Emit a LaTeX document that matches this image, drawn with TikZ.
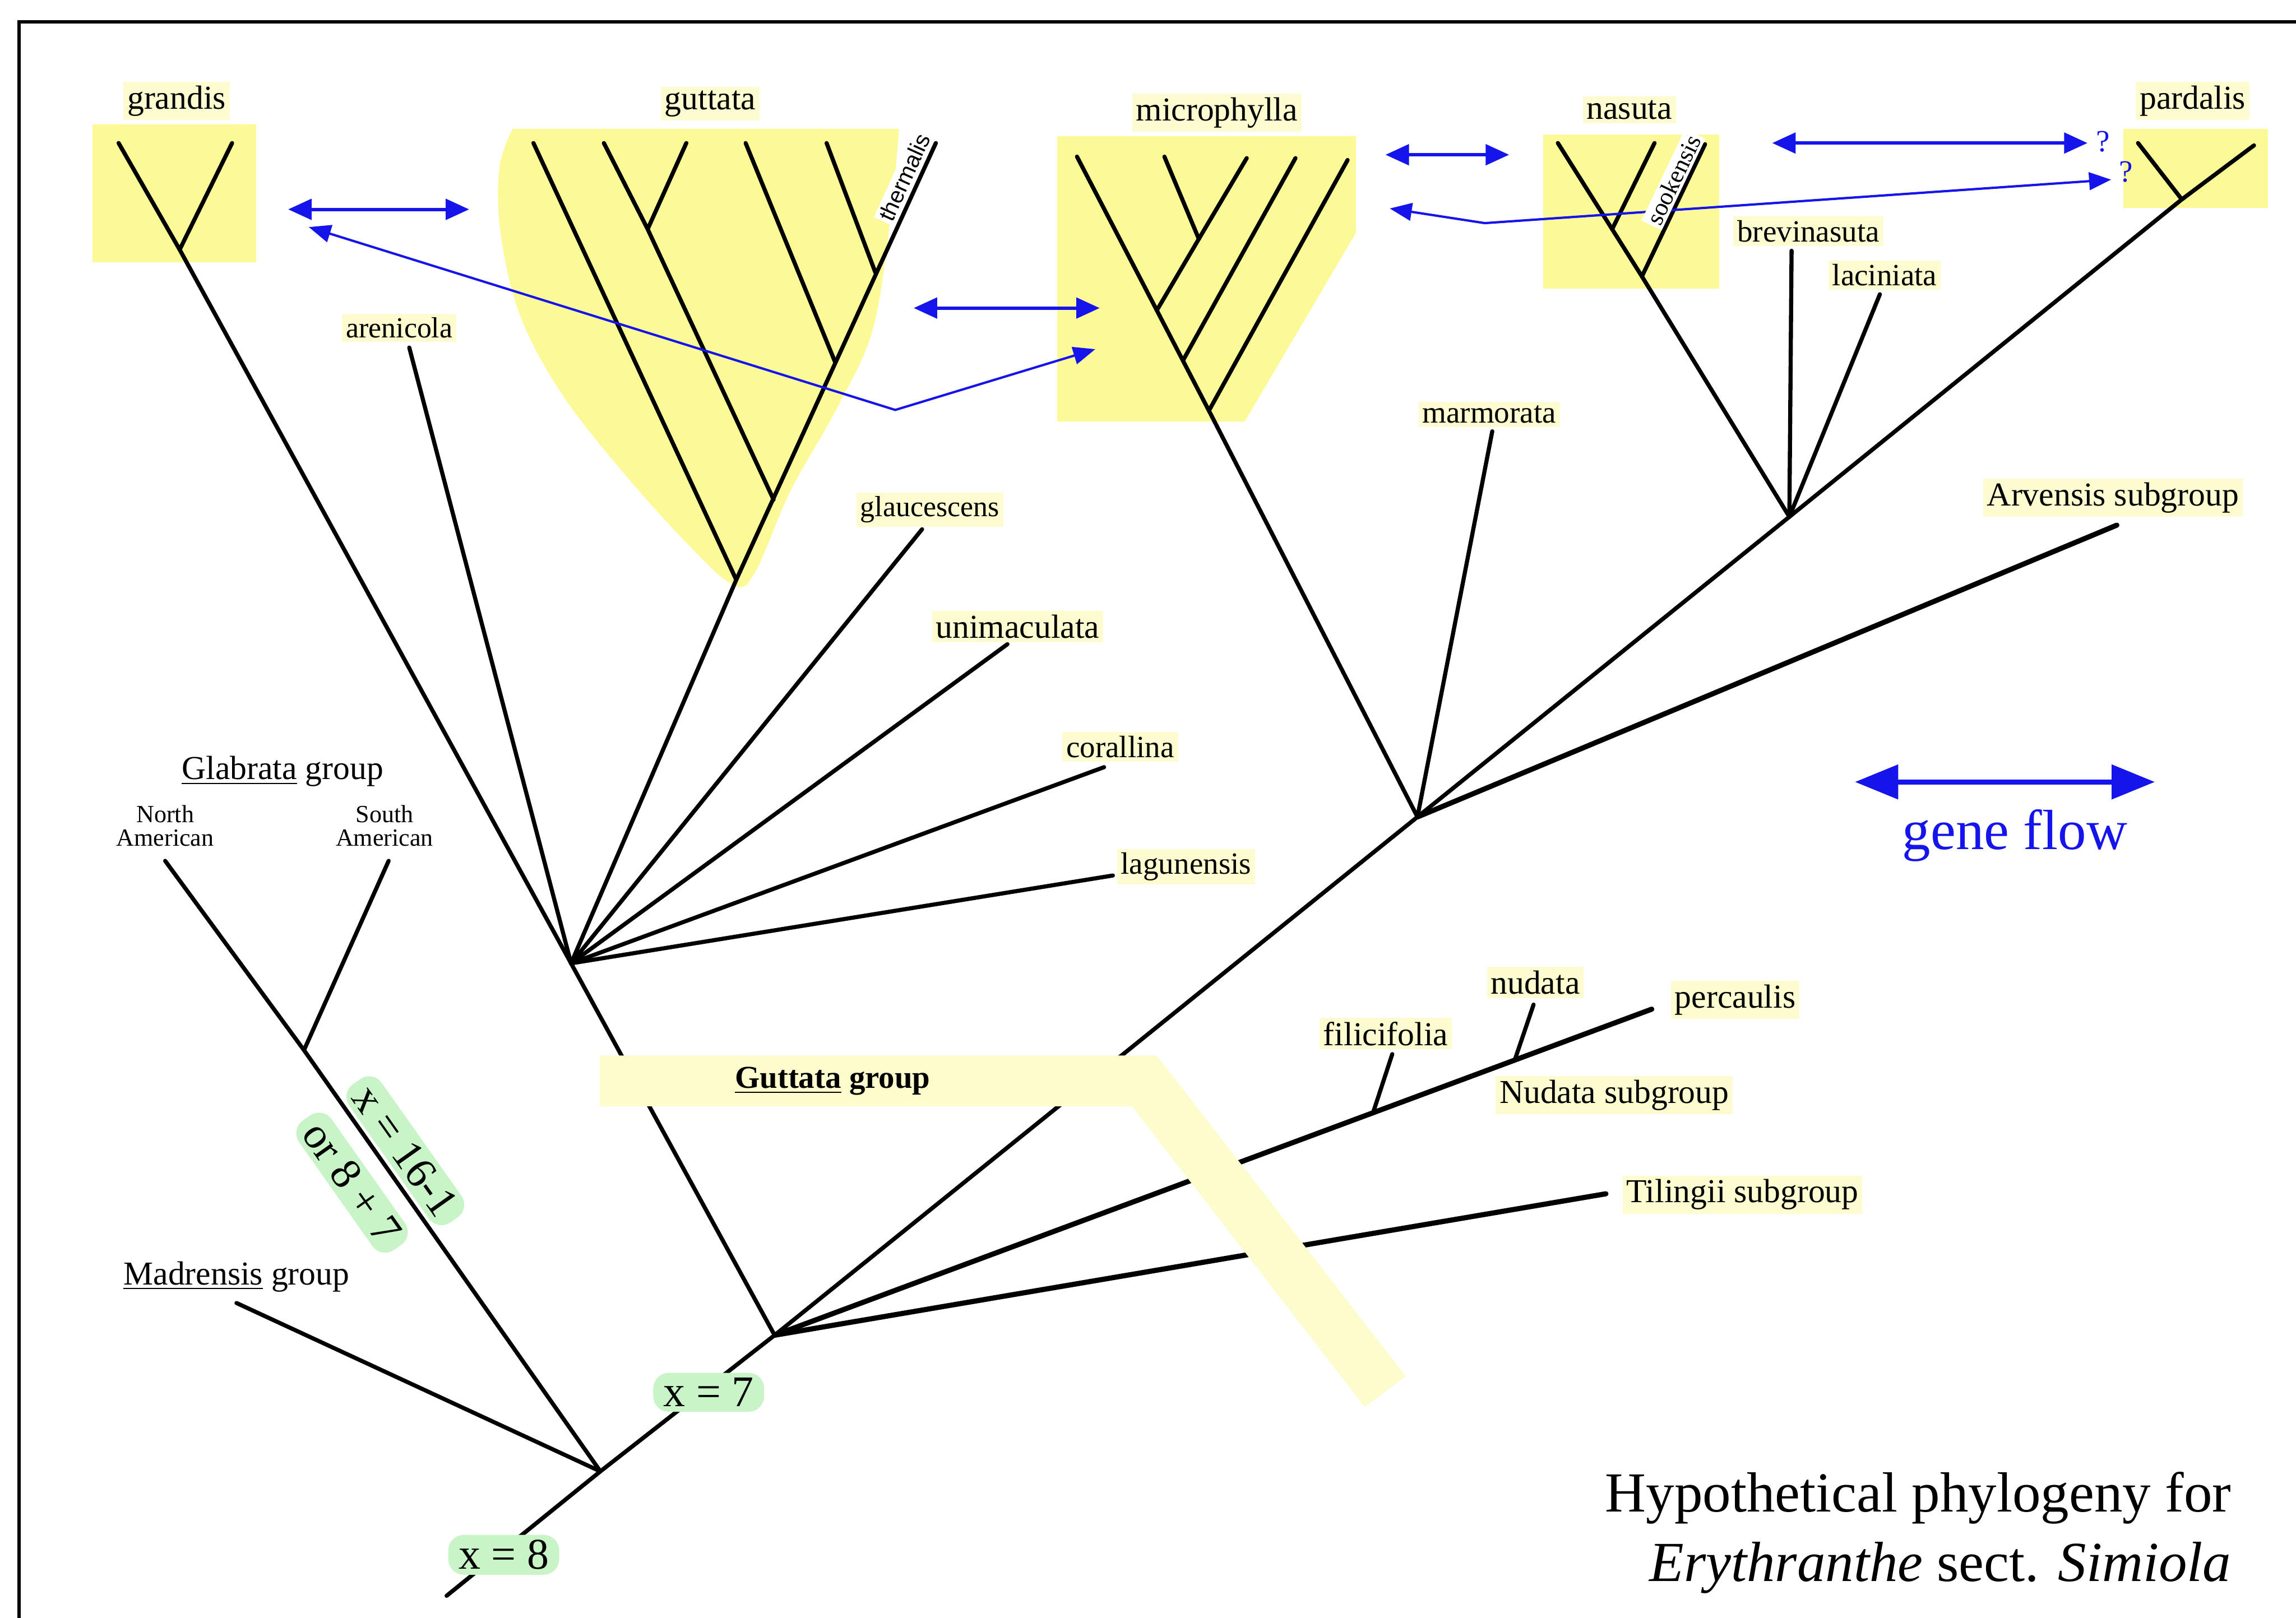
\documentclass[tikz,border=0pt]{standalone}
\usepackage{fontspec}
\setmainfont{Liberation Serif}
\newfontfamily\labelsans{Liberation Sans}
\usetikzlibrary{positioning, arrows.meta}

\definecolor{boxyellow}{RGB}{252,250,150}
\definecolor{labelyellow}{RGB}{252,252,208}
\definecolor{bandyellow}{RGB}{253,252,204}
\definecolor{ploidygreen}{RGB}{200,244,200}
\definecolor{flowblue}{RGB}{20,20,235}

\newcommand{\taxonfont}{\fontsize{13}{15}\selectfont}
\newcommand{\smalltaxonfont}{\fontsize{12}{14}\selectfont}
\newcommand{\titlefont}{\fontsize{22}{26}\selectfont}

\begin{document}
\begin{tikzpicture}[
    x=0.2mm, y=-0.2mm,
    branch/.style={line width=1.6pt, line cap=round},
    thickbranch/.style={line width=2pt, line cap=round},
    taxon/.style={fill=labelyellow, inner sep=1.5pt, font=\taxonfont},
    smalltaxon/.style={taxon, font=\smalltaxonfont},
    grouplabel/.style={inner sep=1pt, font=\taxonfont},
    ploidy/.style={fill=ploidygreen, rounded corners=6pt, inner xsep=4pt, inner ysep=2pt, font=\fontsize{17}{19}\selectfont},
    flow/.style={flowblue, line width=1.3pt, {Triangle[length=3.2mm,width=2.8mm]}-{Triangle[length=3.2mm,width=2.8mm]}},
    flowpath/.style={flowblue, line width=0.9pt, {Triangle[length=3mm,width=2.4mm]}-{Triangle[length=3mm,width=2.4mm]}}
]
\useasboundingbox (0,0) rectangle (1568,1105);

% Rahmen
\coordinate (frameTL) at (13,15);
\draw[line width=1.2pt] (13,1110) -- (frameTL) -- (1575,15);

% Gelbe Kladen
\fill[boxyellow] (63,85) rectangle (175,179);
\fill[boxyellow] plot[smooth, tension=0.6] coordinates {(614,88) (608,150) (596,225) (572,278) (540,335) (515,392) (500,399) (470,372) (425,322) (383,268) (355,215) (342,160) (341,115) (350,88)} -- cycle;
\fill[boxyellow] (722,93) -- (926,93) -- (926,159) -- (850,288) -- (722,288) -- cycle;
\fill[boxyellow] (1054,92) rectangle (1174,197);
\fill[boxyellow] (1450,88) rectangle (1549,142);

% Knoten
\coordinate (root) at (305,1090);
\coordinate (nA) at (410,1005);
\coordinate (nB) at (529,912);
\coordinate (nC) at (390,658);
\coordinate (nD) at (968,558);
\coordinate (nE) at (1222,353);
\coordinate (glabJ) at (207.6,717.3);
\coordinate (madL) at (161.5,890);
\coordinate (northL) at (112.8,588);
\coordinate (southL) at (265.4,588);
% grandis
\coordinate (grJ) at (122.7,170.5);
\coordinate (grT1) at (81,97.7);
\coordinate (grT2) at (158.5,97.7);
\coordinate (arenL) at (279.5,237.4);
% guttata
\coordinate (guB) at (502.8,396);
\coordinate (guT1) at (364.3,97.7);
\coordinate (guT2) at (412.4,97.7);
\coordinate (guT3) at (468.7,97.7);
\coordinate (guJ23) at (442.3,156.5);
\coordinate (guJ23b) at (528.3,341.3);
\coordinate (guT4) at (509.2,97.7);
\coordinate (guJ4) at (570.1,246.8);
\coordinate (guT5) at (564.5,97.7);
\coordinate (guJ5) at (597.8,186.1);
\coordinate (guTh) at (639.1,97.7);
\coordinate (glauL) at (629.7,361.5);
\coordinate (unimL) at (688,440);
\coordinate (coralL) at (754,524);
\coordinate (laguL) at (760,598);
% microphylla
\coordinate (miB) at (825.6,280.5);
\coordinate (miT1) at (735.5,107);
\coordinate (miT2) at (795.2,107);
\coordinate (miT3) at (851.4,108);
\coordinate (miJ23) at (818.7,163.2);
\coordinate (miJ23b) at (790,212);
\coordinate (miT4) at (884.7,108);
\coordinate (miJ4) at (808,246);
\coordinate (miT5) at (920.3,109.3);
\coordinate (marmL) at (1019.1,294.6);
% nasuta
\coordinate (naT1) at (1063.9,97.7);
\coordinate (naT2) at (1129.9,97.7);
\coordinate (naJ2) at (1101,156.5);
\coordinate (sookT) at (1164.4,98.5);
\coordinate (naJ) at (1121.3,188.8);
\coordinate (brevL) at (1223.5,171.3);
\coordinate (laciL) at (1283.8,201);
% pardalis
\coordinate (paT1) at (1460.1,97.7);
\coordinate (paT2) at (1539.3,99.3);
\coordinate (paJ) at (1490,136.2);
\coordinate (arvL) at (1445.6,358.7);
% Nudata, Tilingii
\coordinate (percL) at (1128,689.3);
\coordinate (filiJ) at (937.7,760);
\coordinate (filiL) at (950.8,720);
\coordinate (nudJ) at (1034.3,724.5);
\coordinate (nudL) at (1047.3,686.2);
\coordinate (tiliL) at (1096.7,815.4);

% Chromosomenzahlen (schraeg)
\node[ploidy, rotate=-54.8] (x16) at (276.8,786) {x = 16-1};
\node[ploidy, rotate=-54.8] (or87) at (240.4,807.8) {or 8 + 7};

% Aeste
\draw[branch] (root) -- (nA);
\draw[branch] (nA) -- (madL);
\draw[branch] (nA) -- (glabJ) -- (northL);
\draw[branch] (glabJ) -- (southL);
\draw[branch] (nA) -- (nB);
\draw[branch] (nB) -- (nC);
\draw[branch] (nB) -- (nD);
\draw[thickbranch] (nB) -- (percL);
\draw[thickbranch] (nB) -- (tiliL);
\draw[branch] (filiJ) -- (filiL);
\draw[branch] (nudJ) -- (nudL);
\draw[branch] (nC) -- (grJ) -- (grT1);
\draw[branch] (grJ) -- (grT2);
\draw[branch] (nC) -- (arenL);
\draw[branch] (nC) -- (guB);
\draw[branch] (nC) -- (glauL);
\draw[branch] (nC) -- (unimL);
\draw[branch] (nC) -- (coralL);
\draw[branch] (nC) -- (laguL);
\draw[branch] (guB) -- (guT1);
\draw[branch] (guB) -- (guTh);
\draw[branch] (guJ23b) -- (guJ23) -- (guT2);
\draw[branch] (guJ23) -- (guT3);
\draw[branch] (guJ4) -- (guT4);
\draw[branch] (guJ5) -- (guT5);
\draw[branch] (nD) -- (miB);
\draw[branch] (miB) -- (miT1);
\draw[branch] (miB) -- (miT5);
\draw[branch] (miJ23b) -- (miJ23) -- (miT2);
\draw[branch] (miJ23) -- (miT3);
\draw[branch] (miJ4) -- (miT4);
\draw[branch] (nD) -- (marmL);
\draw[branch] (nD) -- (nE);
\draw[thickbranch] (nD) -- (arvL);
\draw[branch] (nE) -- (naJ) -- (naT1);
\draw[branch] (naJ2) -- (naT2);
\draw[branch] (naJ) -- (sookT);
\draw[branch] (nE) -- (brevL);
\draw[branch] (nE) -- (laciL);
\draw[branch] (nE) -- (paJ) -- (paT1);
\draw[branch] (paJ) -- (paT2);

% Guttata-Band
\fill[bandyellow] (409.6,721) -- (790,721) -- (960,940) -- (932,961) -- (773,755.6) -- (409.6,755.6) -- cycle;
\node[grouplabel, font=\bfseries\fontsize{12.4}{15}\selectfont] (guttatagroup) at (568.6,738.5) {\underline{Guttata} group};

% Chromosomenzahlen
\node[ploidy] (x8) at (344,1062) {x = 8};
\node[ploidy] (x7) at (484,951) {x = 7};

% Taxa
\node[taxon] (grandis) at (120.6,69) {grandis};
\node[taxon] (guttata) at (485,70.7) {guttata};
\node[taxon] (microphylla) at (831,77) {microphylla};
\node[taxon] (nasuta) at (1112.7,75) {nasuta};
\node[taxon] (pardalis) at (1497.4,69) {pardalis};
\node[taxon, font=\fontsize{11.3}{13}\selectfont] (arenicola) at (272.7,224) {arenicola};
\node[taxon, font=\fontsize{11.3}{13}\selectfont] (glaucescens) at (635,348) {glaucescens};
\node[taxon] (unimaculata) at (695,428) {unimaculata};
\node[smalltaxon] (corallina) at (765,510) {corallina};
\node[smalltaxon] (lagunensis) at (810,592) {lagunensis};
\node[smalltaxon] (marmorata) at (1017,283) {marmorata};
\node[smalltaxon] (brevinasuta) at (1235,158) {brevinasuta};
\node[smalltaxon] (laciniata) at (1287,188) {laciniata};
\node[taxon] (arvensis) at (1443,340) {Arvensis subgroup};
\node[taxon] (filicifolia) at (946.3,706) {filicifolia};
\node[taxon] (nudata) at (1048.5,671) {nudata};
\node[taxon] (percaulis) at (1185,683) {percaulis};
\node[taxon] (nudatasub) at (1102.4,748) {Nudata subgroup};
\node[taxon] (tilingii) at (1190,816) {Tilingii subgroup};
\node[fill=white, inner sep=1pt, rotate=65.5, font=\labelsans\fontsize{8.9}{10}\selectfont] (thermalis) at (617.5,121) {thermalis};

% Gruppen links
\node[grouplabel] (glabrata) at (193,527) {\underline{Glabrata} group};
\node[inner sep=0pt, align=center, font=\fontsize{9.6}{9.2}\selectfont] (northam) at (112.8,564) {North\\American};
\node[inner sep=0pt, align=center, font=\fontsize{9.6}{9.2}\selectfont] (southam) at (262.6,564) {South\\American};
\node[grouplabel] (madrensis) at (161.5,872) {\underline{Madrensis} group};

% Genfluss
\coordinate (fGr) at (196.8,143);
\coordinate (fGu) at (320.4,143);
\coordinate (fGu2) at (624,210.4);
\coordinate (fMi) at (751,210.4);
\coordinate (fMi2) at (946.2,105.7);
\coordinate (fNa) at (1030.6,105.7);
\coordinate (fNa2) at (1210.3,97.7);
\coordinate (fPa) at (1425.6,97.7);
\coordinate (pGr) at (210.9,155.1);
\coordinate (pBend) at (611.4,280);
\coordinate (pMi) at (748,238.5);
\coordinate (qMi) at (949.1,142.4);
\coordinate (qBend) at (1014,152.4);
\coordinate (qPa) at (1441.7,122.7);
\draw[flow] (fGr) -- (fGu);
\draw[flow] (fGu2) -- (fMi);
\draw[flow] (fMi2) -- (fNa);
\draw[flow] (fNa2) -- (fPa);
\draw[flowpath] (pGr) -- (pBend) -- (pMi);
\draw[flowpath] (qMi) -- (qBend) -- (qPa);
\node[text=flowblue, inner sep=0pt, font=\fontsize{12}{14}\selectfont] (q1) at (1436,96.6) {?};
\node[text=flowblue, inner sep=0pt, font=\fontsize{12}{14}\selectfont] (q2) at (1452,117.3) {?};
\node[fill=white, inner sep=1pt, rotate=64.5, font=\fontsize{9.6}{11}\selectfont] (sookensis) at (1142.8,122.7) {sookensis};

% Legende
\coordinate (legL) at (1266.8,534.1);
\coordinate (legR) at (1471.6,534.1);
\draw[flowblue, line width=2pt, {Triangle[length=5.9mm,width=4.6mm]}-{Triangle[length=5.9mm,width=4.6mm]}] (legL) -- (legR);
\node[text=flowblue, anchor=base, inner sep=0pt, font=\titlefont] (geneflow) at (1376,580) {gene flow};

% Titel
\node[anchor=base east, inner sep=0pt, font=\titlefont] (title1) at (1524,1032.6) {Hypothetical phylogeny for};
\node[anchor=base east, inner sep=0pt, font=\titlefont] (title2) at (1524,1079.9) {\textit{Erythranthe} sect. \textit{Simiola}};

\end{tikzpicture}
\end{document}
